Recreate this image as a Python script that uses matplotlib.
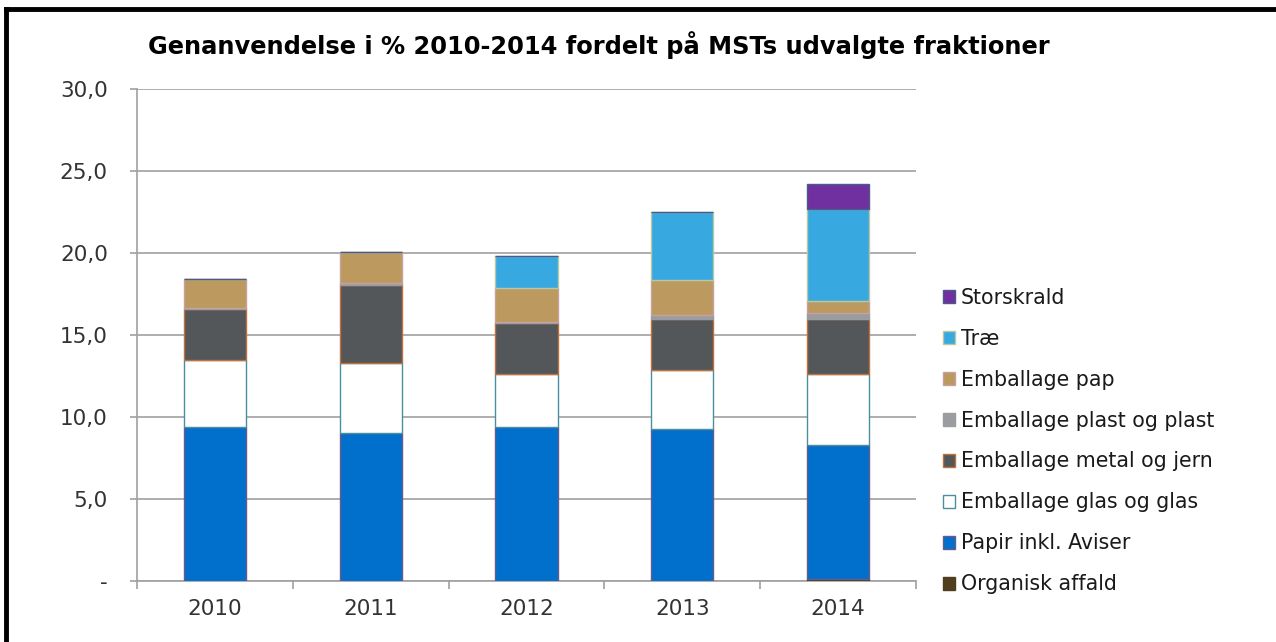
import matplotlib.pyplot as plt
from matplotlib.lines import Line2D
from matplotlib.patches import Patch
import numpy as np

years = ["2010", "2011", "2012", "2013", "2014"]

# bottom to top of each stack
organisk = [0.0, 0.0, 0.0, 0.0, 0.1]
papir = [9.41, 9.04, 9.41, 9.29, 8.17]
glas = [4.07, 4.27, 3.21, 3.58, 4.35]
metal = [3.11, 4.74, 3.09, 3.09, 3.34]
plast = [0.04, 0.1, 0.1, 0.26, 0.36]
pap = [1.80, 1.93, 2.06, 2.13, 0.77]
trae = [0.0, 0.0, 1.95, 4.13, 5.59]
storskrald = [0.0, 0.0, 0.0, 0.0, 1.53]

series = [
    ("Organisk affald", organisk, "#4F3F1F", "#4F3F1F"),
    ("Papir inkl. Aviser", papir, "#0070CC", "#6A5A8A"),
    ("Emballage glas og glas", glas, "#FFFFFF", "#4A8FA0"),
    ("Emballage metal og jern", metal, "#53575A", "#C0703A"),
    ("Emballage plast og plast", plast, "#9A9CA0", "#9A9CA0"),
    ("Emballage pap", pap, "#BC9A5F", "#C8A0A0"),
    ("Træ", trae, "#38A8E1", "#B8C8A0"),
    ("Storskrald", storskrald, "#7030A0", "#4A5A8A"),
]

fig = plt.figure(figsize=(12.76, 6.42), dpi=100)
ax = fig.add_axes([137 / 1276, 61 / 642, 779 / 1276, 492 / 642])

x = np.arange(len(years))
bottom = np.zeros(len(years))
handles = []
for name, vals, color, edge in series:
    vals = np.array(vals)
    ax.bar(x, vals, width=0.4, bottom=bottom, color=color, edgecolor=edge,
           linewidth=1.0, zorder=3)
    bottom += vals
    handles.append(Patch(facecolor=color, edgecolor=edge, label=name))

ax.set_xlim(-0.5, len(years) - 0.5)
ax.set_ylim(0, 30)
ax.set_yticks(np.arange(0, 31, 5))
ax.set_yticklabels(["-"] + [f"{v:.1f}".replace(".", ",") for v in np.arange(5, 31, 5)])
ax.set_xticks(x)
ax.set_xticklabels(years)
ax.set_xticks(np.arange(-0.5, len(years), 1), minor=True)
ax.tick_params(axis="x", which="major", length=0, pad=13, labelsize=15.5, labelcolor="#333333")
ax.tick_params(axis="x", which="minor", length=6, color="#a0a0a0", width=1.2)
ax.tick_params(axis="y", length=5, color="#a0a0a0", width=1.2, pad=16, labelsize=15.5,
               labelcolor="#333333")
ax.grid(axis="y", color="#a0a0a0", linewidth=1.2, zorder=0)
for s in ["top", "right"]:
    ax.spines[s].set_visible(False)
for s in ["left", "bottom"]:
    ax.spines[s].set_color("#a0a0a0")
    ax.spines[s].set_linewidth(1.2)

fig.text(148 / 1276, 1 - 45 / 642, "Genanvendelse i % 2010-2014 fordelt på MSTs udvalgte fraktioner",
         fontsize=17.4, fontweight="bold", va="center", ha="left")

fig.legend(handles=handles[::-1], loc="center left", bbox_to_anchor=(924 / 1276, 1 - 441 / 642),
           frameon=False, fontsize=14.8, handlelength=0.6, handleheight=0.6, handletextpad=0.3,
           labelspacing=1.02, labelcolor="#1a1a1a")

# black frame on top and left edges
fig.add_artist(Line2D([6 / 1276, 1], [1 - 9 / 642, 1 - 9 / 642], color="black", linewidth=3.5,
                      transform=fig.transFigure))
fig.add_artist(Line2D([6 / 1276, 6 / 1276], [0, 1 - 9 / 642], color="black", linewidth=3.5,
                      transform=fig.transFigure))

fig.savefig("out.png", dpi=100)
